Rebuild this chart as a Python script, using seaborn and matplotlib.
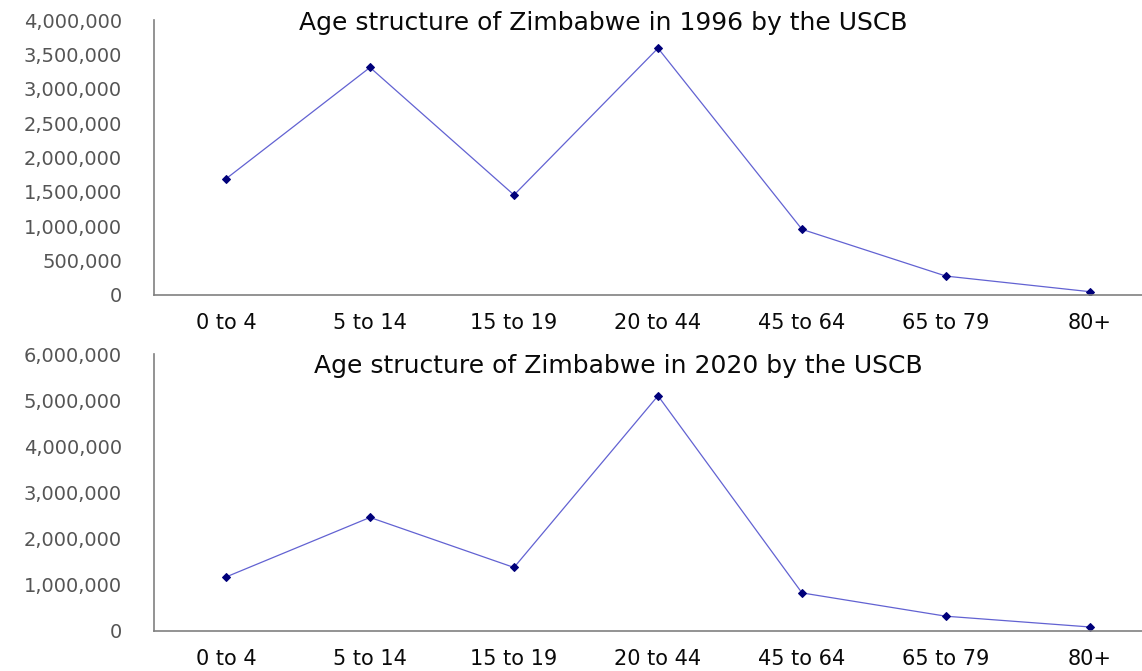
import matplotlib
matplotlib.use("Agg")

import matplotlib.pyplot as plt
import pandas as pd
import seaborn as sns
from matplotlib.ticker import FuncFormatter, FixedLocator

# Age groups and USCB population estimates
categories = ["0 to 4", "5 to 14", "15 to 19", "20 to 44", "45 to 64", "65 to 79", "80+"]
pop_1996 = [1690000, 3310000, 1455000, 3590000, 955000, 275000, 48000]
pop_2020 = [1170000, 2460000, 1376000, 5095000, 825000, 320000, 87000]

titles = [
    "Age structure of Zimbabwe in 1996 by the USCB",
    "Age structure of Zimbabwe in 2020 by the USCB",
]
y_max = [4000000, 6000000]
y_step = [500000, 1000000]

sns.set_style("white")
plt.rcParams["font.family"] = ["DejaVu Sans"]

W, H = 1142, 671
fig = plt.figure(figsize=(W / 100, H / 100), dpi=100)

# axes boxes in pixels: left, top, right, bottom
boxes = [(154, 20, 1162, 295), (154, 354, 1162, 631)]
title_pos = [(0.446, 0.99), (0.461, 0.955)]

axis_grey = "#808080"
line_col = "#6262d2"
mark_col = "#00007a"

for i, (vals, box) in enumerate(zip([pop_1996, pop_2020], boxes)):
    l, t, r, b = box
    ax = fig.add_axes([l / W, 1 - b / H, (r - l) / W, (b - t) / H])
    df = pd.DataFrame({"age": categories, "pop": vals})
    sns.lineplot(data=df, x="age", y="pop", sort=False, ax=ax,
                 color=line_col, linewidth=0.9, marker="D", markersize=4.5,
                 markerfacecolor=mark_col, markeredgecolor=mark_col)

    ax.set_xlim(-0.5, len(categories) - 0.5)
    ax.set_ylim(0, y_max[i])
    ax.set_yticks(range(0, y_max[i] + 1, y_step[i]))
    ax.yaxis.set_major_formatter(FuncFormatter(lambda v, p: f"{int(v):,}"))

    # labels centred on categories, tick marks on category boundaries
    ax.set_xticks(range(len(categories)))
    ax.set_xticklabels(categories)
    ax.xaxis.set_minor_locator(FixedLocator([k + 0.5 for k in range(len(categories))]))
    ax.tick_params(axis="x", which="major", length=0, pad=13,
                   labelsize=15, labelcolor="#0a0a0a")
    ax.tick_params(axis="x", which="minor", length=7, width=1.2,
                   color=axis_grey, direction="out")
    ax.tick_params(axis="y", length=8, width=1.2, color=axis_grey,
                   direction="out", pad=15, labelsize=14, labelcolor="#555555")

    ax.set_xlabel("")
    ax.set_ylabel("")
    sns.despine(ax=ax)
    for side in ["left", "bottom"]:
        ax.spines[side].set_color(axis_grey)
        ax.spines[side].set_linewidth(1.2)

    tx, ty = title_pos[i]
    ax.text(tx, ty, titles[i], transform=ax.transAxes, ha="center", va="center",
            fontsize=18, color="#0a0a0a")

fig.savefig("out.png", dpi=100)
